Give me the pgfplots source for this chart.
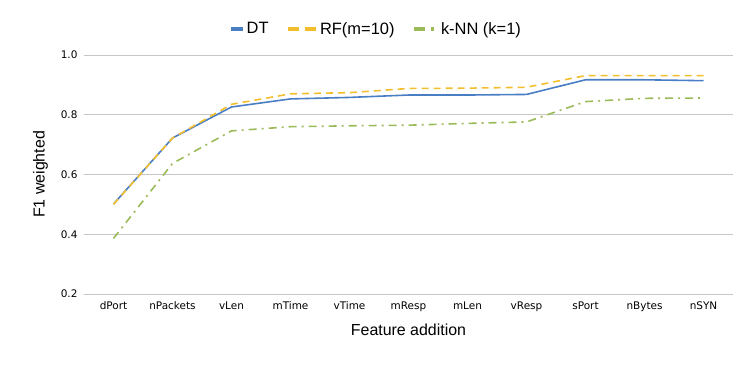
\documentclass[border=0pt]{standalone}
\usepackage{pgfplots}
\pgfplotsset{compat=1.18}
\usepackage{fontspec}
\setmainfont{Liberation Sans}
\newfontfamily\tickfont{DejaVu Sans}
\definecolor{dtc}{HTML}{4A7EC4}
\definecolor{rfc}{HTML}{F2BE2C}
\definecolor{knc}{HTML}{9BBB59}
\begin{document}
\begin{tikzpicture}
\useasboundingbox (0,0) rectangle (753bp,371bp);
\begin{axis}[
  at={(84bp,77bp)}, anchor=south west,
  width=649bp, height=239bp, scale only axis,
  xmin=-0.5, xmax=10.5, ymin=0.2, ymax=1.0,
  xtick={0,...,10},
  xticklabels={dPort,nPackets,vLen,mTime,vTime,mResp,mLen,vResp,sPort,nBytes,nSYN},
  ytick={0.2,0.4,0.6,0.8,1.0},
  yticklabel style={/pgf/number format/fixed,/pgf/number format/fixed zerofill,/pgf/number format/precision=1, xshift=-3bp},
  /pgf/number format/assume math mode=true,
  tick label style={font=\tickfont\fontsize{10.5}{12}\selectfont},
  xticklabel style={yshift=-4bp},
  major tick length=0pt,
  axis line style={draw=none},
  ymajorgrids, grid style={gray!45, line width=0.8pt},
  xlabel={Feature addition}, ylabel={F1 weighted},
  label style={font=\fontsize{16}{17}\selectfont},
  xlabel style={yshift=-6bp},
  ylabel style={yshift=6bp},
  legend columns=3,
  legend style={at={(axis description cs:0.45,1.109)}, anchor=center, draw=none, font=\fontsize{16.5}{17}\selectfont, /tikz/every even column/.append style={column sep=16bp}},
  every axis plot/.append style={line width=1.6pt},
]
\addplot[dtc, legend image code/.code={\draw[dtc, line width=3.5bp] (0bp,0bp) -- (12bp,0bp);}] coordinates {(0,0.501)(1,0.722)(2,0.826)(3,0.853)(4,0.858)(5,0.866)(6,0.866)(7,0.868)(8,0.917)(9,0.917)(10,0.914)};
\addlegendentry{DT}
\addplot[rfc, dash pattern=on 7bp off 5bp, legend image code/.code={\draw[rfc, line width=3.5bp, dash pattern=on 11bp off 6bp] (0bp,0bp) -- (28bp,0bp);}] coordinates {(0,0.500)(1,0.722)(2,0.835)(3,0.870)(4,0.874)(5,0.888)(6,0.889)(7,0.892)(8,0.931)(9,0.931)(10,0.931)};
\addlegendentry{RF(m=10)}
\addplot[knc, dash pattern=on 8bp off 5bp on 2bp off 5bp, legend image code/.code={\draw[knc, line width=3.5bp, dash pattern=on 11bp off 6bp on 3bp off 6bp] (0bp,0bp) -- (23bp,0bp);}] coordinates {(0,0.386)(1,0.637)(2,0.746)(3,0.760)(4,0.763)(5,0.765)(6,0.771)(7,0.776)(8,0.844)(9,0.855)(10,0.856)};
\addlegendentry{k-NN (k=1)}
\end{axis}
\end{tikzpicture}
\end{document}
